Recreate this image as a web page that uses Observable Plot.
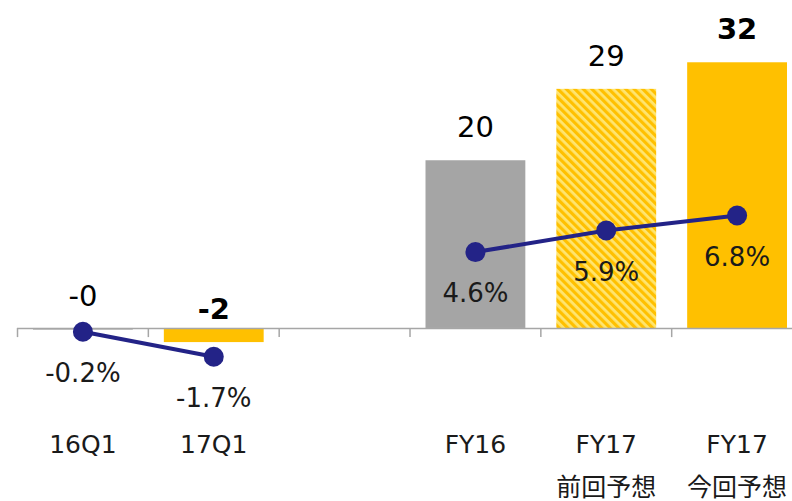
<!DOCTYPE html>
<html>
<head>
<meta charset="utf-8">
<script src="https://cdn.jsdelivr.net/npm/d3@7"></script>
<script src="https://cdn.jsdelivr.net/npm/@observablehq/plot@0.6"></script>
<style>
  html, body { margin: 0; padding: 0; background: #fff; }
  svg { font-family: "DejaVu Sans", "Noto Sans CJK JP", sans-serif; }
</style>
</head>
<body>
<div id="chart"></div>
<script>
// Data
const xDomain = ["16Q1", "17Q1", "gap", "FY16", "FY17\n前回予想", "FY17\n今回予想"];
const categories = ["16Q1", "17Q1", "FY16", "FY17\n前回予想", "FY17\n今回予想"];
const values = [-0.2, -1.7, 20.2, 28.8, 32.0];
const valueLabels = ["-0", "-2", "20", "29", "32"];
const kinds = ["prior", "current", "prior", "previousForecast", "current"];
const margins = [-0.2, -1.7, 4.6, 5.9, 6.8];
const marginLabels = ["-0.2%", "-1.7%", "4.6%", "5.9%", "6.8%"];
const groups = ["Q", "Q", "FY", "FY", "FY"];

const pctScale = 2; // secondary axis factor (percent -> bar units)

const data = categories.map((c, i) => ({
  cat: c, value: values[i], label: valueLabels[i], kind: kinds[i],
  pct: margins[i], pctLabel: marginLabels[i], group: groups[i]
}));

const chart = Plot.plot({
  width: 792,
  height: 501,
  marginTop: 0,
  marginBottom: 90,
  marginLeft: 17,
  marginRight: 0,
  x: { domain: xDomain, range: [17, 802], padding: 0, round: false, axis: null },
  y: { domain: [-10, 39.5], axis: null },
  color: {
    domain: ["prior", "current", "previousForecast"],
    range: ["#a5a5a5", "#ffc000", "url(#hatch)"]
  },
  marks: [
    Plot.barY(data, { x: "cat", y: "value", fill: "kind", insetLeft: 16, insetRight: 15 }),
    Plot.ruleY([0], { stroke: "#a6a6a6", strokeWidth: 1.5 }),
    Plot.ruleX(xDomain, { x: d => d, y1: 0, y2: -1.1, dx: -65.4, stroke: "#a6a6a6", strokeWidth: 1.5 }),
    Plot.lineY(data, { x: "cat", y: d => d.pct * pctScale, z: "group", stroke: "#232387", strokeWidth: 4 }),
    Plot.dot(data, { x: "cat", y: d => d.pct * pctScale, r: 10, fill: "#232387", stroke: "none" }),
    Plot.text(data.filter(d => d.kind !== "current"), {
      x: "cat", y: "value", text: "label", dy: -33, fontSize: 29, fill: "#000"
    }),
    Plot.text(data.filter(d => d.kind === "current"), {
      x: "cat", y: "value", text: "label", dy: -33, fontSize: 29, fontWeight: "bold", fill: "#000"
    }),
    Plot.text(data, {
      x: "cat", y: d => d.pct * pctScale, text: "pctLabel", dy: 42, fontSize: 26, fill: "#1a1a1a"
    }),
    Plot.text(data, {
      x: "cat", text: "cat", frameAnchor: "bottom", lineAnchor: "top", dy: 11,
      fontSize: 25, lineHeight: 1.72, fill: "#1a1a1a"
    })
  ]
});

d3.select(chart).insert("defs", ":first-child").html(`
  <pattern id="hatch" patternUnits="userSpaceOnUse" width="6" height="6" patternTransform="rotate(-45)">
    <rect width="6" height="6" fill="#ffe570"></rect>
    <rect width="3.2" height="6" fill="#ffc000"></rect>
  </pattern>`);

document.getElementById("chart").appendChild(chart);
</script>
</body>
</html>
